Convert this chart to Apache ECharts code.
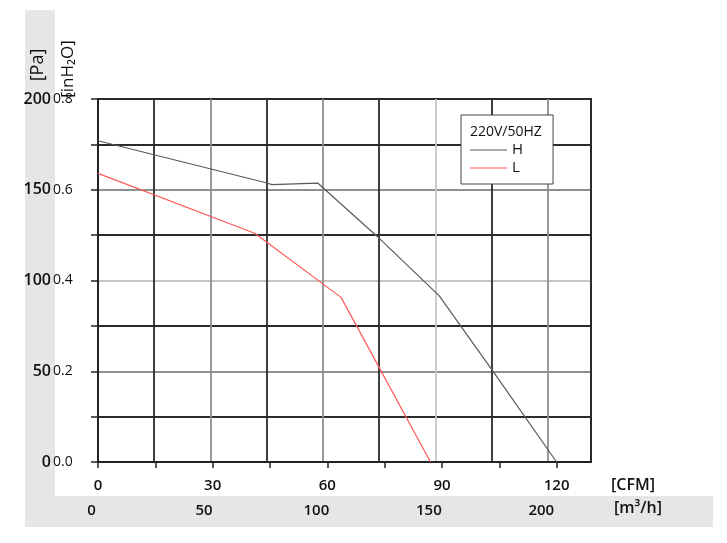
<!DOCTYPE html>
<html>
<head>
<meta charset="utf-8">
<script src="https://cdn.jsdelivr.net/npm/echarts@6/dist/echarts.min.js"></script>
<style>
html,body{margin:0;padding:0;background:#fff;}
#chart{width:727px;height:543px;}
</style>
</head>
<body>
<div id="chart"></div>
<script>
// ---- data ----
const cfmLabels = [0, 30, 60, 90, 120];
const cfmTickMarks = [0, 15, 30, 45, 60, 75, 90, 105, 120];
const m3hLabels = [0, 50, 100, 150, 200];
const paLabels = [0, 50, 100, 150, 200];
const inh2oLabels = [0.0, 0.2, 0.4, 0.6, 0.8];

const seriesNames = ['H', 'L'];
const flowH = [0, 43.7, 45.5, 57.5, 73.2, 89.3, 103, 120];
const pressH = [177, 154, 152.8, 153.7, 124, 91.5, 51, 0];
const flowL = [0, 41, 63.6, 73.2, 87];
const pressL = [159, 126, 90.7, 53.5, 0];

const legendTitle = '220V/50HZ';

const FONT = '"Open Sans", "Noto Sans", "DejaVu Sans", sans-serif';
const DARK = '#2b2b2b', GREY = '#8f8f8f', LIGHT = '#c6c6c6';

const chart = echarts.init(document.getElementById('chart'), null, {renderer: 'canvas'});

const lblBold = {fontFamily: FONT, fontSize: 15, fontWeight: 600, color: '#111'};
const lblReg = {fontFamily: FONT, fontSize: 14, fontWeight: 'normal', color: '#111'};

const option = {
  animation: false,
  backgroundColor: '#fff',
  grid: {left: 98, top: 99, width: 493, height: 363, show: true,
         borderColor: DARK, borderWidth: 2, backgroundColor: 'transparent'},
  xAxis: [
    {
      type: 'value', min: 0, max: 129, interval: 15, position: 'bottom',
      axisLine: {show: true, onZero: false, lineStyle: {color: '#222', width: 2}},
      axisTick: {show: true, length: 6, customValues: cfmTickMarks, lineStyle: {color: '#222', width: 1.5}},
      axisLabel: Object.assign({customValues: cfmLabels, margin: 16}, lblBold),
      splitLine: {show: false}
    },
    {
      type: 'value', min: 0, max: 219.2, interval: 25, position: 'bottom', offset: 0,
      axisLine: {show: false}, axisTick: {show: false},
      axisLabel: Object.assign({customValues: m3hLabels, margin: 41, padding: [0, 13, 0, 0]}, lblBold),
      splitLine: {show: true, showMinLine: true, showMaxLine: true,
        lineStyle: {color: [DARK, DARK, GREY, DARK, GREY, DARK, LIGHT, DARK, GREY, DARK], width: 1.8}}
    }
  ],
  yAxis: [
    {
      type: 'value', min: 0, max: 200, interval: 25, position: 'left',
      axisLine: {show: true, onZero: false, lineStyle: {color: '#222', width: 2}},
      axisTick: {show: true, length: 7, lineStyle: {color: '#222', width: 1.5}},
      axisLabel: Object.assign({customValues: paLabels, margin: 47, padding: [6, 0, 0, 0]}, lblBold, {fontSize: 16}),
      splitLine: {show: true, showMinLine: true, showMaxLine: true,
        lineStyle: {color: [DARK, DARK, GREY, DARK, LIGHT, DARK, GREY, DARK, DARK], width: 1.8}}
    },
    {
      type: 'value', min: 0, max: 0.8, interval: 0.1, position: 'left', offset: 0,
      axisLine: {show: false}, axisTick: {show: false}, splitLine: {show: false},
      axisLabel: Object.assign({customValues: inh2oLabels, margin: 45, align: 'left',
        padding: [11, 0, 0, 0], formatter: v => Number(v).toFixed(1)}, lblReg)
    }
  ],
  legend: {
    show: true, data: seriesNames, orient: 'vertical', left: 461, top: 115,
    padding: [27, 30, 8, 9], itemGap: 2, itemWidth: 37, itemHeight: 1.2, icon: 'rect',
    selectedMode: false, backgroundColor: '#fff', borderColor: '#444', borderWidth: 1,
    textStyle: {fontFamily: FONT, fontSize: 15, color: '#111', lineHeight: 16}
  },
  graphic: [
    {type: 'rect', z: -10, shape: {x: 25, y: 10, width: 30, height: 517}, style: {fill: '#e6e6e6'}},
    {type: 'rect', z: -10, shape: {x: 25, y: 496, width: 688, height: 31}, style: {fill: '#e6e6e6'}},
    {type: 'text', z: 100, x: 470, y: 132,
     style: {text: legendTitle, fontFamily: FONT, fontSize: 14, fill: '#111', align: 'left', verticalAlign: 'middle'}},
    {type: 'text', z: 100, x: 38, y: 65, rotation: Math.PI / 2,
     style: {text: '[Pa]', fontFamily: FONT, fontSize: 18, fill: '#111', align: 'center', verticalAlign: 'middle'}},
    {type: 'text', z: 100, x: 68, y: 69, rotation: Math.PI / 2,
     style: {text: '[inH₂O]', fontFamily: FONT, fontSize: 17, fill: '#111', align: 'center', verticalAlign: 'middle'}},
    {type: 'text', z: 100, x: 611, y: 485,
     style: {text: '[CFM]', fontFamily: FONT, fontSize: 16, fontWeight: 600, fill: '#111', align: 'left', verticalAlign: 'middle'}},
    {type: 'text', z: 100, x: 614, y: 508,
     style: {text: '[m³/h]', fontFamily: FONT, fontSize: 16, fontWeight: 600, fill: '#111', align: 'left', verticalAlign: 'middle'}}
  ],
  series: [
    {
      type: 'line', name: seriesNames[0], xAxisIndex: 0, yAxisIndex: 0, z: 5,
      data: flowH.map((x, i) => [x, pressH[i]]),
      showSymbol: false, symbol: 'none',
      lineStyle: {color: '#5a5a5a', width: 1.2}, itemStyle: {color: '#5a5a5a'}
    },
    {
      type: 'line', name: seriesNames[1], xAxisIndex: 0, yAxisIndex: 0, z: 5,
      data: flowL.map((x, i) => [x, pressL[i]]),
      showSymbol: false, symbol: 'none',
      lineStyle: {color: '#ff5a5a', width: 1.2}, itemStyle: {color: '#ff5a5a'}
    }
  ]
};
chart.setOption(option);
</script>
</body>
</html>
